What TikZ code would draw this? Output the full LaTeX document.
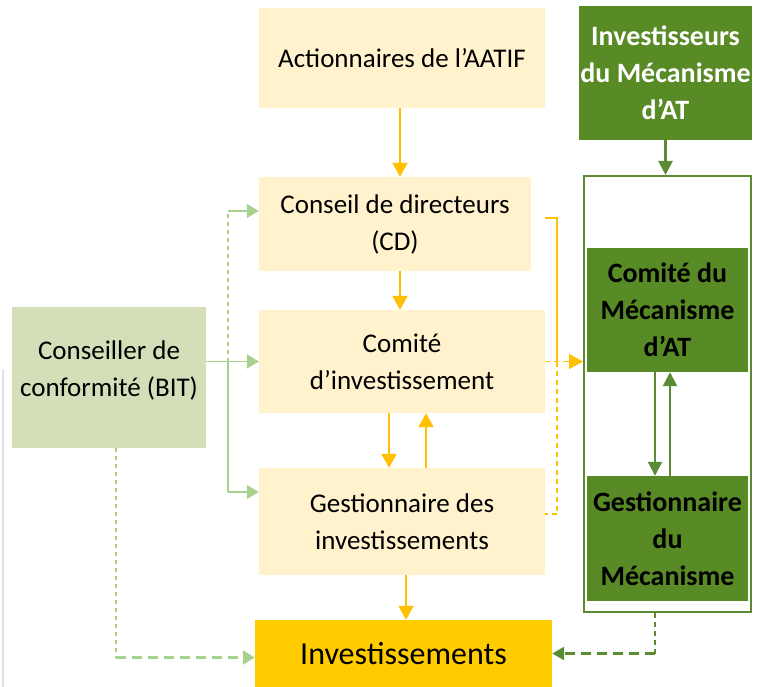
\documentclass[tikz,border=0pt]{standalone}
\usepackage{fontspec}
\setmainfont{Carlito}
\usetikzlibrary{arrows.meta}
\definecolor{cream}{HTML}{FFF2CC}
\definecolor{gold}{HTML}{FFCC00}
\definecolor{amber}{HTML}{FFC000}
\definecolor{sage}{HTML}{D4DFB9}
\definecolor{mint}{HTML}{A9D18E}
\definecolor{forest}{HTML}{588A25}
\definecolor{forestline}{HTML}{5B8C35}
\definecolor{pageedge}{HTML}{DCE3EC}
\tikzset{
  box/.style={rectangle, inner sep=0pt, align=center, draw=none,
    font=\fontsize{27}{37}\selectfont},
  creambox/.style={box, fill=cream},
  greenbox/.style={box, fill=forest, font=\fontsize{28}{37}\selectfont\bfseries},
  oarrow/.style={draw=amber, line width=2pt, -{Triangle[length=14pt,width=15pt]}},
  othin/.style={draw=amber, line width=1.5pt},
  odash/.style={draw=amber, line width=1.5pt, dash pattern=on 5pt off 4pt},
  larrow/.style={draw=mint, line width=1.5pt, -{Triangle[length=12pt,width=14pt]}},
  ldash/.style={draw=mint, line width=1.5pt, dash pattern=on 4pt off 4pt},
  garrow/.style={draw=forestline, line width=2.2pt, -{Triangle[length=14pt,width=14pt]}},
}
\begin{document}
\begin{tikzpicture}[x=1pt,y=-1pt]
\useasboundingbox (0,0) rectangle (760,687);

% faint page edge on the left
\draw[pageedge, line width=2pt] (3,369) -- (3,687);

% left column of governance bodies
\node[creambox, minimum width=286pt, minimum height=100pt] (act) at (402,58)
  {Actionnaires de l’AATIF};
\node[creambox, minimum width=272pt, minimum height=94pt] (cd) at (395,224)
  {Conseil de directeurs\\(CD)};
\node[creambox, minimum width=286pt, minimum height=103pt] (com) at (402,361.5)
  {Comité\\d’investissement};
\node[creambox, minimum width=286pt, minimum height=107pt] (gest) at (402,521.5)
  {Gestionnaire des\\investissements};
\node[box, fill=gold, minimum width=297pt, minimum height=67pt,
  font=\fontsize{32}{38}\selectfont] (inv) at (403.5,653.5) {Investissements};

% compliance adviser
\node[box, fill=sage, minimum width=194pt, minimum height=141pt] (cons) at (109,377.5)
  {Conseiller de\\conformité (BIT)\\[-30pt]\strut};

% right column: the facility
\node[greenbox, text=white, minimum width=173pt, minimum height=134pt] (invm) at (665.5,73)
  {Investisseurs\\du Mécanisme\\d’AT};
\node[draw=forestline, line width=2pt, minimum width=167pt, minimum height=436pt,
  inner sep=0pt] (frame) at (667.5,394) {};
\node[greenbox, minimum width=161pt, minimum height=124pt] (cm) at (667.5,310)
  {Comité du\\Mécanisme\\d’AT};
\node[greenbox, minimum width=161pt, minimum height=125pt] (gm) at (667.5,538.5)
  {Gestionnaire\\du\\Mécanisme};

% main reporting chain
\draw[oarrow] ([xshift=-2pt]act.south) -- ([xshift=-2pt]act.south |- cd.north);
\draw[oarrow] ([xshift=-2pt]com.north |- cd.south) -- ([xshift=-2pt]com.north);
\draw[oarrow] ([xshift=-13pt]com.south) -- ([xshift=-13pt]com.south |- gest.north);
\draw[oarrow] ([xshift=24pt]com.south |- gest.north) -- ([xshift=24pt]com.south);
\draw[oarrow] ([xshift=4pt]gest.south) -- ([xshift=4pt]gest.south |- inv.north);

% links towards the facility
\coordinate (bx) at (557,0);
\draw[othin] ([xshift=14pt,yshift=6pt]cd.east) -- ([yshift=6pt]cd.east -| bx) -- (com.east -| bx);
\draw[odash] (com.east -| bx) -- ([yshift=7.5pt]gest.east -| bx) -- ([yshift=7.5pt]gest.east);
\draw[odash] (com.east) -- ([xshift=-14pt]com.east -| frame.west);
\draw[draw=amber, line width=1.5pt, -{Triangle[length=14pt,width=15pt]}]
  ([xshift=-15pt]com.east -| frame.west) -- (com.east -| frame.west);

% adviser links
\coordinate (jx) at (228,0);
\draw[mint, line width=1.5pt] (cons.east |- com.west) -- (com.west -| jx);
\draw[larrow] (com.west -| jx) -- (com.west);
\draw[ldash] (com.west -| jx) -- ([yshift=13pt]cd.west -| jx);
\draw[larrow] ([yshift=13pt]cd.west -| jx) -- ([yshift=13pt]cd.west);
\draw[mint, line width=1.5pt] (com.west -| jx) -- ([yshift=29.5pt]gest.west -| jx);
\draw[larrow] ([yshift=29.5pt]gest.west -| jx) -- ([yshift=29.5pt]gest.west);
\coordinate (cb) at ([xshift=7pt]cons.south |- inv.west);
\draw[ldash] ([xshift=7pt]cons.south) -- ([yshift=-4pt]cb);
\draw[mint, line width=2.5pt, dash pattern=on 10pt off 6pt,
  -{Triangle[length=12pt,width=14pt]}]
  ([yshift=-4pt]cb) -- ([yshift=-4pt]inv.west);

% facility internal links
\draw[garrow] (invm.south) -- (invm.south |- frame.north);
\draw[garrow] ([xshift=-12.5pt]cm.south) -- ([xshift=-12.5pt]cm.south |- gm.north);
\draw[garrow] ([xshift=2.5pt]cm.south |- gm.north) -- ([xshift=2.5pt]cm.south);
\coordinate (fb) at ([xshift=-12.5pt]frame.south |- inv.east);
\draw[forestline, line width=1.5pt, dash pattern=on 5pt off 4pt]
  ([xshift=-12.5pt]frame.south) -- (fb);
\draw[forestline, line width=2.5pt, dash pattern=on 10pt off 6pt,
  -{Triangle[length=12pt,width=13pt]}]
  (fb) -- (inv.east);
\end{tikzpicture}
\end{document}
